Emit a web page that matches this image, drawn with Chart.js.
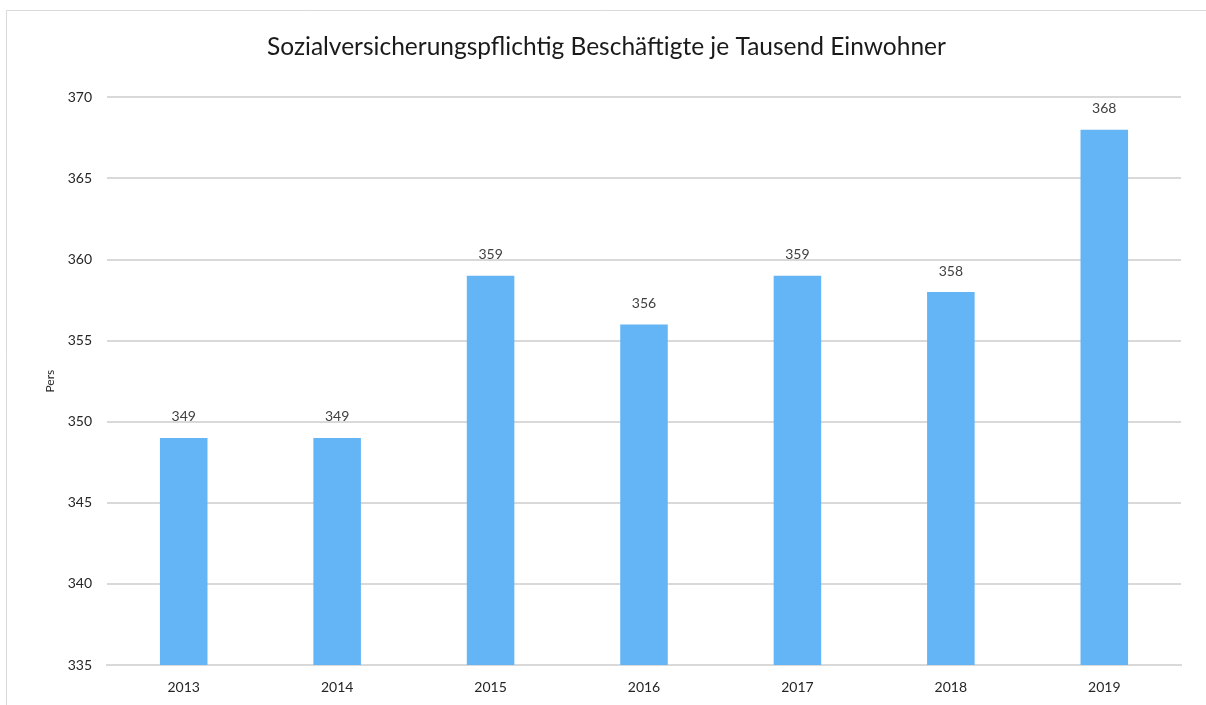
<!DOCTYPE html>
<html>
<head>
<meta charset="utf-8">
<script src="https://cdn.jsdelivr.net/npm/chart.js@4/dist/chart.umd.min.js"></script>
<style>
  html, body { margin: 0; padding: 0; background: #ffffff; }
  #wrap { position: relative; width: 1206px; height: 705px; }
</style>
</head>
<body>
<div id="wrap"><canvas id="chart" width="1206" height="705"></canvas></div>
<script>
const years = ['2013', '2014', '2015', '2016', '2017', '2018', '2019'];
const employedPerThousand = [349, 349, 359, 356, 359, 358, 368];
const yMin = 335;
const yMax = 370;
const yStep = 5;

const FONT = 'Lato, "Open Sans", sans-serif';

// frame around the chart region
const framePlugin = {
  id: 'frame',
  beforeDraw(chart) {
    const ctx = chart.ctx;
    ctx.save();
    ctx.strokeStyle = '#d9d9d9';
    ctx.lineWidth = 1;
    ctx.beginPath();
    ctx.moveTo(6.5, 705);
    ctx.lineTo(6.5, 10.5);
    ctx.lineTo(1206, 10.5);
    ctx.stroke();
    ctx.restore();
  }
};

// value labels above each bar
const valueLabels = {
  id: 'valueLabels',
  afterDatasetsDraw(chart) {
    const ctx = chart.ctx;
    const meta = chart.getDatasetMeta(0);
    const data = chart.data.datasets[0].data;
    ctx.save();
    ctx.font = '14px ' + FONT;
    ctx.fillStyle = '#404040';
    ctx.textAlign = 'center';
    ctx.textBaseline = 'bottom';
    meta.data.forEach((bar, i) => {
      ctx.fillText(String(data[i]), bar.x, bar.y - 14);
    });
    ctx.restore();
  }
};

new Chart(document.getElementById('chart'), {
  type: 'bar',
  data: {
    labels: years,
    datasets: [{
      data: employedPerThousand,
      backgroundColor: '#64b5f6',
      borderWidth: 0,
      categoryPercentage: 1.0,
      barPercentage: 0.31
    }]
  },
  options: {
    responsive: false,
    animation: false,
    layout: { padding: { left: 32, right: 25, top: 0, bottom: 0 } },
    plugins: {
      legend: { display: false },
      tooltip: { enabled: false },
      title: {
        display: true,
        text: 'Sozialversicherungspflichtig Beschäftigte je Tausend Einwohner',
        color: '#1a1a1a',
        font: { family: FONT, size: 24.5, weight: 'normal' },
        padding: { top: 32, bottom: 36 }
      }
    },
    scales: {
      x: {
        grid: { display: false, drawTicks: false },
        border: { display: true, color: '#d9d9d9', width: 2 },
        ticks: { color: '#262626', font: { family: FONT, size: 14 }, padding: 14 },
        afterFit(scale) { scale.height = 40; }
      },
      y: {
        min: yMin,
        max: yMax,
        grid: { color: '#d9d9d9', lineWidth: 2, drawTicks: false },
        border: { display: false },
        ticks: {
          stepSize: yStep,
          color: '#262626',
          font: { family: FONT, size: 14 },
          padding: 15
        },
        title: {
          display: true,
          text: 'Pers',
          color: '#262626',
          font: { family: FONT, size: 12 },
          padding: { top: 11, bottom: 0 }
        },
        afterFit(scale) { scale.width = 75; }
      }
    }
  },
  plugins: [framePlugin, valueLabels]
});
</script>
</body>
</html>
